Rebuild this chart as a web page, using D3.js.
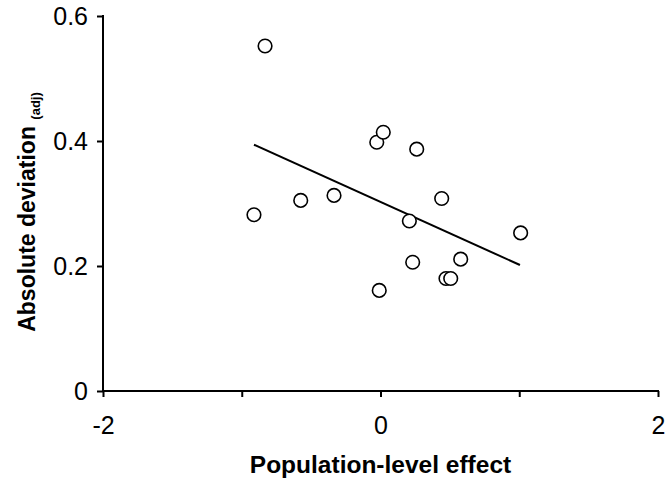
<!DOCTYPE html>
<html>
<head>
<meta charset="utf-8">
<script src="https://cdn.jsdelivr.net/npm/d3@7"></script>
<style>
  html, body { margin: 0; padding: 0; background: #fff; }
  svg { display: block; }
  text { font-family: Arial, "Liberation Sans", Helvetica, sans-serif; fill: #000; }
</style>
</head>
<body>
<svg id="chart" width="670" height="478"></svg>
<script>
// Data
const effect = [-0.832, -0.912, -0.575, -0.335, -0.027, 0.020, -0.009, 0.261, 0.441, 0.208, 1.010, 0.232, 0.578, 0.472, 0.506];
const deviation = [0.552, 0.282, 0.305, 0.313, 0.398, 0.414, 0.161, 0.387, 0.308, 0.272, 0.253, 0.206, 0.211, 0.180, 0.180];
const trendX = [-0.912, 1.005];
const trendY = [0.394, 0.2016];
const xTicks = [-2, -1, 0, 1, 2];
const xTickLabels = ["-2", "", "0", "", "2"];
const yTicks = [0, 0.2, 0.4, 0.6];
const yTickLabels = ["0", "0.2", "0.4", "0.6"];

const svg = d3.select("#chart");
const x = d3.scaleLinear().domain([-2, 2]).range([103, 658]);
const y = d3.scaleLinear().domain([0, 0.6]).range([391, 16]);

// axes
const xAxis = d3.axisBottom(x).tickValues(xTicks)
  .tickFormat((d, i) => xTickLabels[i]).tickSizeInner(6).tickSizeOuter(0).tickPadding(19);
const gx = svg.append("g").attr("transform", `translate(0,${y(0)})`).call(xAxis);
const yAxis = d3.axisLeft(y).tickValues(yTicks)
  .tickFormat((d, i) => yTickLabels[i]).tickSizeInner(6).tickSizeOuter(0).tickPadding(9);
const gy = svg.append("g").attr("transform", `translate(${x(-2)},0)`).call(yAxis);

[gx, gy].forEach(g => {
  g.select(".domain").attr("stroke", "#000").attr("stroke-width", 2);
  g.selectAll(".tick line").attr("stroke", "#000").attr("stroke-width", 2);
  g.selectAll(".tick text").style("font-size", "25px").attr("fill", "#000");
});
// extend domains so they meet at the corner
gx.select(".domain").attr("d", `M${x(-2) - 1},0H${x(2) + 1}`);
gy.select(".domain").attr("d", `M0,${y(0.6) - 1}V${y(0) + 1}`);

// trend line
const line = d3.line().x(d => x(d[0])).y(d => y(d[1]));
svg.append("path")
  .datum(d3.zip(trendX, trendY))
  .attr("d", line)
  .attr("fill", "none")
  .attr("stroke", "#000")
  .attr("stroke-width", 2);

// points
svg.append("g").selectAll("circle")
  .data(d3.zip(effect, deviation))
  .join("circle")
  .attr("cx", d => x(d[0]))
  .attr("cy", d => y(d[1]))
  .attr("r", 6.8)
  .attr("fill", "#fff")
  .attr("stroke", "#000")
  .attr("stroke-width", 1.6);

// axis titles
svg.append("text")
  .attr("x", x(0))
  .attr("y", 473)
  .attr("text-anchor", "middle")
  .style("font-size", "24.5px")
  .style("font-weight", "bold")
  .text("Population-level effect");

const yt = svg.append("text")
  .attr("transform", `translate(35,212) rotate(-90)`)
  .attr("text-anchor", "middle")
  .style("font-size", "23px")
  .style("font-weight", "bold");
yt.append("tspan").text("Absolute deviation ");
yt.append("tspan").attr("dy", 5).style("font-size", "13px").text("(adj)");
</script>
</body>
</html>
